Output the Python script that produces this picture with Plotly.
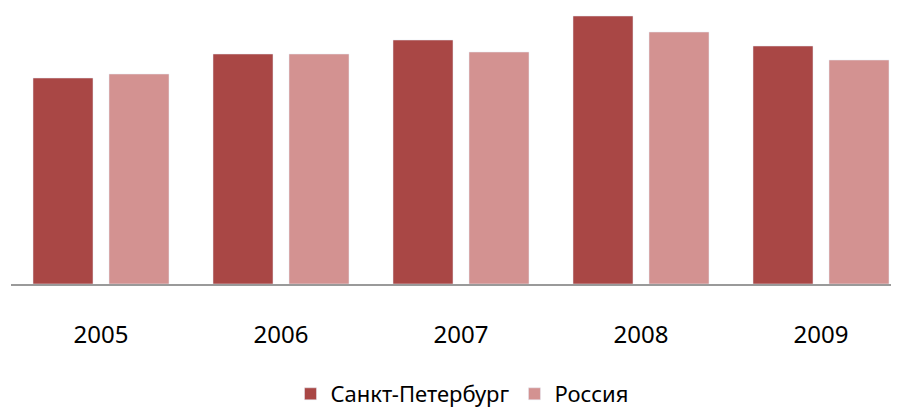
import plotly.graph_objects as go

years = ["2005", "2006", "2007", "2008", "2009"]
spb = [103, 115, 122, 134, 119]
russia = [105, 115, 116, 126, 112]
series_names = ["Санкт-Петербург", "Россия"]
colors = ["#A94745", "#D39291"]

fig = go.Figure()
fig.add_trace(go.Bar(x=years, y=spb, name=series_names[0], marker_color=colors[0]))
fig.add_trace(go.Bar(x=years, y=russia, name=series_names[1], marker_color=colors[1]))

# page body has an 8px margin; figure is laid out to compensate
W, H = 891, 402
ml, mt, mr = 3, 2, 0
plot_bottom = 276
mb = H - plot_bottom
plot_w = W - ml - mr
plot_h = H - mt - mb
fig.update_layout(
    width=W, height=H,
    margin=dict(l=ml, r=mr, t=mt, b=mb, autoexpand=False),
    barmode="group",
    bargap=0.1556,
    bargroupgap=0.2105,
    plot_bgcolor="white",
    paper_bgcolor="white",
    font=dict(family="Noto Sans", size=22, color="#000000"),
    showlegend=True,
    legend=dict(orientation="h", x=(462 - 8 - ml) / plot_w, xanchor="center",
                y=(plot_bottom - 386) / plot_h,
                yanchor="middle", font=dict(size=22), itemclick=False),
    xaxis=dict(type="category", range=[-0.5, -0.5 + plot_w / 180],
               showline=True, linecolor="#9A9A9A", linewidth=2,
               ticks="outside", ticklen=28, tickcolor="rgba(0,0,0,0)",
               showgrid=False, tickfont=dict(size=24)),
    yaxis=dict(range=[0, plot_h / 2], visible=False, showgrid=False, zeroline=False),
)
fig.write_html("out.html")
